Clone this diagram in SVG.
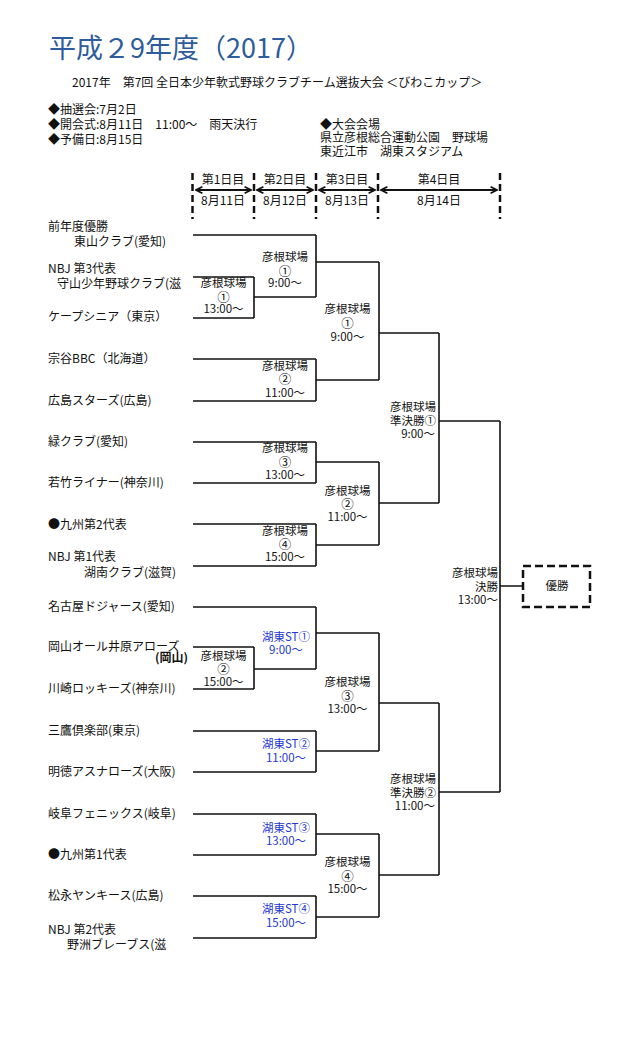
<svg xmlns="http://www.w3.org/2000/svg" width="637" height="1037" viewBox="0 0 637 1037">
<defs>
<style>
text{font-family:"Noto Sans CJK JP","Noto Sans",sans-serif;fill:#111;}
.t{font-size:12px;}
.m{font-size:11.5px;text-anchor:middle;}
.c{font-size:12.5px;text-anchor:middle;}
.mb{font-size:11.5px;text-anchor:middle;fill:#2236d0;}
.r{font-size:11.5px;text-anchor:end;}
.h{font-size:12px;}
.d{font-size:12px;text-anchor:middle;}
.ln{fill:none;stroke:#111;stroke-width:1.6;}
.dash{fill:none;stroke:#111;stroke-width:2.5;stroke-dasharray:7 4;}
.arr{fill:none;stroke:#111;stroke-width:2.2;}
</style>
<marker id="ah" viewBox="0 0 10 10" refX="9" refY="5" markerWidth="8" markerHeight="9" markerUnits="userSpaceOnUse" orient="auto-start-reverse">
<path d="M1,1 L9,5 L1,9" fill="none" stroke="#111" stroke-width="2.2"/>
</marker>
</defs>
<rect x="0" y="0" width="637" height="1037" fill="#fff"/>

<g id="header">
<text x="49" y="58" style="font-size:27px;fill:#2e5c9c;">平成２9年度（2017）</text>
<text x="72" y="87" class="h">2017年　第7回 全日本少年軟式野球クラブチーム選抜大会 ＜びわこカップ＞</text>
<text x="48" y="114" class="h">◆抽選会:7月2日</text>
<text x="48" y="129" class="h">◆開会式:8月11日　11:00～　雨天決行</text>
<text x="48" y="144" class="h">◆予備日:8月15日</text>
<text x="320" y="129" class="h">◆大会会場</text>
<text x="320" y="142" class="h">県立彦根総合運動公園　野球場</text>
<text x="320" y="156" class="h">東近江市　湖東スタジアム</text>
</g>

<g id="timeline">
<path class="dash" d="M192.5,173V219M254,173V219M316,173V219M378,173V219M500,173V219"/>
<path class="arr" marker-start="url(#ah)" marker-end="url(#ah)" d="M196,190H251"/>
<path class="arr" marker-start="url(#ah)" marker-end="url(#ah)" d="M257,190H313"/>
<path class="arr" marker-start="url(#ah)" marker-end="url(#ah)" d="M319,190H375"/>
<path class="arr" marker-start="url(#ah)" marker-end="url(#ah)" d="M381,190H497"/>
<text x="223" y="184" class="d">第1日目</text>
<text x="223" y="205" class="d">8月11日</text>
<text x="285" y="184" class="d">第2日目</text>
<text x="285" y="205" class="d">8月12日</text>
<text x="347" y="184" class="d">第3日目</text>
<text x="347" y="205" class="d">8月13日</text>
<text x="439" y="184" class="d">第4日目</text>
<text x="439" y="205" class="d">8月14日</text>
</g>

<g id="connectors">
<path class="ln" d="M193,235H316M193,277H254M193,318H254M254,277V318M254,297H316M316,235V297M316,262H379"/>
<path class="ln" d="M193,359H316M193,401H316M316,359V401M316,380H379M379,262V380M379,333H439"/>
<path class="ln" d="M193,442H316M193,483H316M316,442V483M316,462H379"/>
<path class="ln" d="M193,524H316M193,566H316M316,524V566M316,545H379M379,462V545M379,503H439"/>
<path class="ln" d="M439,333V503M439,421H500"/>
<path class="ln" d="M193,607H316M193,647H254M193,689H254M254,647V689M254,669H316M316,607V669M316,633H379"/>
<path class="ln" d="M193,731H316M193,772H316M316,731V772M316,751H379M379,633V751M379,703H439"/>
<path class="ln" d="M193,814H316M193,855H316M316,814V855M316,834H379"/>
<path class="ln" d="M193,896H316M193,938H316M316,896V938M316,917H379M379,834V917M379,875H439"/>
<path class="ln" d="M439,703V875M439,792H500"/>
<path class="ln" d="M500,421V792M500,586H523"/>
</g>

<g id="team-01"><text x="48" y="231" class="t">前年度優勝</text><text x="74" y="246" class="t">東山クラブ(愛知)</text></g>
<g id="team-02"><text x="48" y="273" class="t">NBJ 第3代表</text><text x="57" y="288" class="t">守山少年野球クラブ(滋</text></g>
<g id="team-03"><text x="48" y="321" class="t">ケープシニア（東京）</text></g>
<g id="team-04"><text x="48" y="363" class="t">宗谷BBC（北海道）</text></g>
<g id="team-05"><text x="48" y="405" class="t">広島スターズ(広島)</text></g>
<g id="team-06"><text x="48" y="446" class="t">緑クラブ(愛知)</text></g>
<g id="team-07"><text x="48" y="487" class="t">若竹ライナー(神奈川)</text></g>
<g id="team-08"><text x="48" y="529" class="t">●九州第2代表</text></g>
<g id="team-09"><text x="48" y="561" class="t">NBJ 第1代表</text><text x="84" y="577" class="t">湖南クラブ(滋賀)</text></g>
<g id="team-10"><text x="48" y="611" class="t">名古屋ドジャース(愛知)</text></g>
<g id="team-11"><text x="48" y="651" class="t">岡山オール井原アローズ</text><text x="155" y="662" class="t" style="font-weight:bold;">(岡山)</text></g>
<g id="team-12"><text x="48" y="693" class="t">川崎ロッキーズ(神奈川)</text></g>
<g id="team-13"><text x="48" y="735" class="t">三鷹倶楽部(東京)</text></g>
<g id="team-14"><text x="48" y="776" class="t">明徳アスナローズ(大阪)</text></g>
<g id="team-15"><text x="48" y="818" class="t">岐阜フェニックス(岐阜)</text></g>
<g id="team-16"><text x="48" y="859" class="t">●九州第1代表</text></g>
<g id="team-17"><text x="48" y="900" class="t">松永ヤンキース(広島)</text></g>
<g id="team-18"><text x="48" y="934" class="t">NBJ 第2代表</text><text x="67" y="949" class="t">野洲ブレーブス(滋</text></g>

<g id="match-d1-1"><text x="223.5" y="287" class="m">彦根球場</text><text x="223.5" y="301.5" class="c">①</text><text x="223.5" y="313" class="m">13:00～</text></g>
<g id="match-d2-1"><text x="285" y="261" class="m">彦根球場</text><text x="285" y="275.5" class="c">①</text><text x="285" y="287" class="m">9:00～</text></g>
<g id="match-d2-2"><text x="285" y="370" class="m">彦根球場</text><text x="285" y="383.5" class="c">②</text><text x="285" y="397" class="m">11:00～</text></g>
<g id="match-d3-1"><text x="347.5" y="313" class="m">彦根球場</text><text x="347.5" y="327.5" class="c">①</text><text x="347.5" y="341" class="m">9:00～</text></g>
<g id="match-d2-3"><text x="285" y="452" class="m">彦根球場</text><text x="285" y="466.5" class="c">③</text><text x="285" y="479" class="m">13:00～</text></g>
<g id="match-d2-4"><text x="285" y="535" class="m">彦根球場</text><text x="285" y="548.5" class="c">④</text><text x="285" y="561" class="m">15:00～</text></g>
<g id="match-d3-2"><text x="347.5" y="495" class="m">彦根球場</text><text x="347.5" y="508.5" class="c">②</text><text x="347.5" y="521" class="m">11:00～</text></g>
<g id="match-d2-k1"><text x="286" y="641" class="mb">湖東ST①</text><text x="286" y="654" class="mb">9:00～</text></g>
<g id="match-d1-2"><text x="223.5" y="660" class="m">彦根球場</text><text x="223.5" y="673.5" class="c">②</text><text x="223.5" y="686" class="m">15:00～</text></g>
<g id="match-d2-k2"><text x="286" y="748" class="mb">湖東ST②</text><text x="286" y="762" class="mb">11:00～</text></g>
<g id="match-d3-3"><text x="347.5" y="686" class="m">彦根球場</text><text x="347.5" y="700.5" class="c">③</text><text x="347.5" y="713" class="m">13:00～</text></g>
<g id="match-d2-k3"><text x="286" y="832" class="mb">湖東ST③</text><text x="286" y="845" class="mb">13:00～</text></g>
<g id="match-d2-k4"><text x="286" y="913" class="mb">湖東ST④</text><text x="286" y="927" class="mb">15:00～</text></g>
<g id="match-d3-4"><text x="347.5" y="866" class="m">彦根球場</text><text x="347.5" y="880.5" class="c">④</text><text x="347.5" y="893" class="m">15:00～</text></g>
<g id="semifinal-1"><text x="436" y="411" class="r">彦根球場</text><text x="436" y="425" class="r">準決勝①</text><text x="435" y="438" class="r">9:00～</text></g>
<g id="semifinal-2"><text x="436" y="783" class="r">彦根球場</text><text x="436" y="797" class="r">準決勝②</text><text x="435" y="810" class="r">11:00～</text></g>
<g id="final"><text x="498" y="577" class="r">彦根球場</text><text x="498" y="591" class="r">決勝</text><text x="498" y="604" class="r">13:00～</text></g>
<g id="champion">
<rect x="523" y="566" width="67" height="41" fill="none" stroke="#111" stroke-width="2.5" stroke-dasharray="8 4"/>
<text x="557" y="590" class="m">優勝</text>
</g>
</svg>
